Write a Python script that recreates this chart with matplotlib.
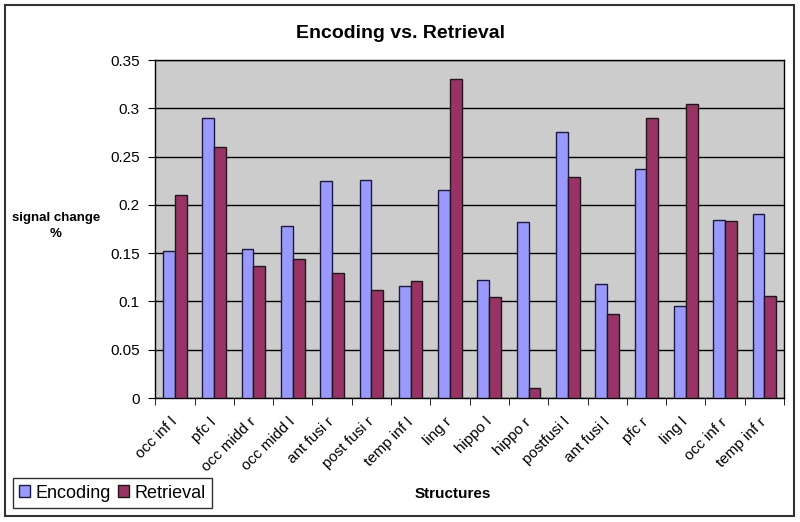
import numpy as np
import matplotlib.pyplot as plt
import matplotlib.transforms as mtransforms
from matplotlib.patches import Rectangle

plt.rcParams['font.family'] = ['Liberation Sans', 'DejaVu Sans']

structures = ['occ inf l', 'pfc l', 'occ midd r', 'occ midd l', 'ant fusi r',
              'post fusi r', 'temp inf l', 'ling r', 'hippo l', 'hippo r',
              'postfusi l', 'ant fusi l', 'pfc r', 'ling l', 'occ inf r',
              'temp inf r']
encoding = [0.152, 0.290, 0.154, 0.178, 0.225, 0.226, 0.116, 0.215,
            0.122, 0.182, 0.275, 0.118, 0.237, 0.095, 0.184, 0.191]
retrieval = [0.210, 0.260, 0.137, 0.144, 0.129, 0.112, 0.121, 0.330,
             0.105, 0.010, 0.229, 0.087, 0.290, 0.304, 0.183, 0.106]
yticks = [0, 0.05, 0.1, 0.15, 0.2, 0.25, 0.3, 0.35]
ytick_labels = ['0', '0.05', '0.1', '0.15', '0.2', '0.25', '0.3', '0.35']

fig = plt.figure(figsize=(8, 5.22), dpi=100)
ax = fig.add_axes([0.194, 0.2375, 0.786, 0.6475])
ax.set_facecolor('#CCCCCC')

x = np.arange(len(structures))
w = 0.3
ax.bar(x - w / 2, encoding, w, color='#9999FF', edgecolor='#1a1a3a',
       linewidth=1, label='Encoding', zorder=3)
ax.bar(x + w / 2, retrieval, w, color='#993366', edgecolor='#1a1a1a',
       linewidth=1, label='Retrieval', zorder=3)

ax.set_xlim(-0.5, len(structures) - 0.5)
ax.set_ylim(0, 0.35)
ax.set_yticks(yticks)
ax.set_yticklabels(ytick_labels, fontsize=11)
ax.yaxis.grid(True, color='black', linewidth=1, zorder=1)
ax.set_axisbelow(True)

ax.set_xticks(x)
ax.set_xticklabels(structures, rotation=45, ha='right', rotation_mode='anchor',
                   fontsize=11)
ax.tick_params(axis='x', which='major', length=0, pad=10)
# shift rotated labels a little left, like the original
shift = mtransforms.ScaledTranslation(-5 / 100, -3 / 100, fig.dpi_scale_trans)
for lbl in ax.get_xticklabels():
    lbl.set_transform(lbl.get_transform() + shift)
ax.set_xticks(np.arange(-0.5, len(structures)), minor=True)
ax.tick_params(axis='x', which='minor', length=5, direction='out')
ax.tick_params(axis='y', length=5, direction='out', pad=6)

for s in ax.spines.values():
    s.set_linewidth(1)
    s.set_color('black')

fig.text(0.5, 0.935, 'Encoding vs. Retrieval', ha='center', va='center',
         fontsize=14, fontweight='bold')
fig.text(0.07, 0.567, 'signal change\n%', ha='center', va='center',
         fontsize=9.5, fontweight='bold', linespacing=1.5)
fig.text(0.566, 0.054, 'Structures', ha='center', va='center',
         fontsize=11, fontweight='bold')

leg = fig.legend(loc='lower left', bbox_to_anchor=(0.016, 0.027),
                 ncol=2, fontsize=13, frameon=True, fancybox=False,
                 edgecolor='black', handlelength=0.6, handleheight=0.6,
                 handletextpad=0.3, columnspacing=0.4, borderpad=0.35,
                 borderaxespad=0)
leg.get_frame().set_linewidth(1)

fig.patches.append(Rectangle((0.00625, 0.012), 0.986, 0.978,
                             transform=fig.transFigure, fill=False,
                             edgecolor='#333333', linewidth=1.5))

fig.savefig('out.png', dpi=100)
